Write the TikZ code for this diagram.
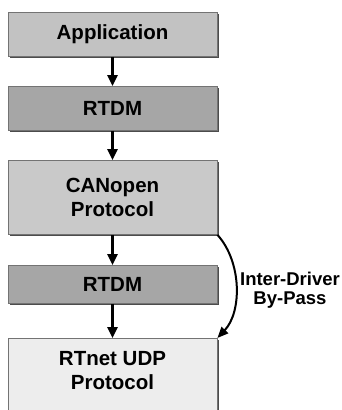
\documentclass[tikz,border=0pt]{standalone}
\usepackage{fontspec}
\setmainfont{Liberation Sans}
\usetikzlibrary{arrows.meta,shadows}
\begin{document}
\begin{tikzpicture}[x=1pt,y=-1pt,
  layer/.style={draw=black!55, line width=0.8pt, minimum width=209pt, anchor=north,
    inner sep=0pt, align=center, font=\bfseries\fontsize{20.5}{24}\selectfont,
    general shadow={fill=black!70, shadow xshift=1.5pt, shadow yshift=-1.5pt}},
  flow/.style={line width=2.6pt, -{Triangle[length=11pt,width=10pt]}}]
\useasboundingbox (0,0) rectangle (342,410);
\clip (0,0) rectangle (342,410);
\fill[white] (0,0) rectangle (342,410);
% stack of layers
\node[layer, fill=black!24, minimum height=44pt] (app) at (112.5,12) {Application};
\node[layer, fill=black!35, minimum height=44pt] (rtdma) at (112.5,86) {RTDM};
\node[layer, fill=black!21, minimum height=74pt] (can) at (112.5,160) {CANopen\\Protocol};
\node[layer, fill=black!35, minimum height=38pt] (rtdmb) at (112.5,265) {RTDM};
\node[layer, fill=black!7, minimum height=106pt] (udp) at (112.5,338) {};
\node[font=\bfseries\fontsize{20.5}{24}\selectfont, align=center, anchor=north] (udptext) at (112.5,348) {RTnet UDP\\Protocol};
% data flow between layers
\draw[flow] (app.south) -- (rtdma.north);
\draw[flow] (rtdma.south) -- (can.north);
\draw[flow] (can.south) -- (rtdmb.north);
\draw[flow] (rtdmb.south) -- (udp.north);
% by-pass from the CANopen layer straight to RTnet
\draw[line width=2pt, -{Triangle[length=11pt,width=9pt]}]
  (can.south east) .. controls (242,262) and (242,312) .. (udp.north east);
\node[font=\bfseries\fontsize{18.5}{19.5}\selectfont, align=center] (bypass) at (290,290) {Inter-Driver\\By-Pass};
\end{tikzpicture}
\end{document}
